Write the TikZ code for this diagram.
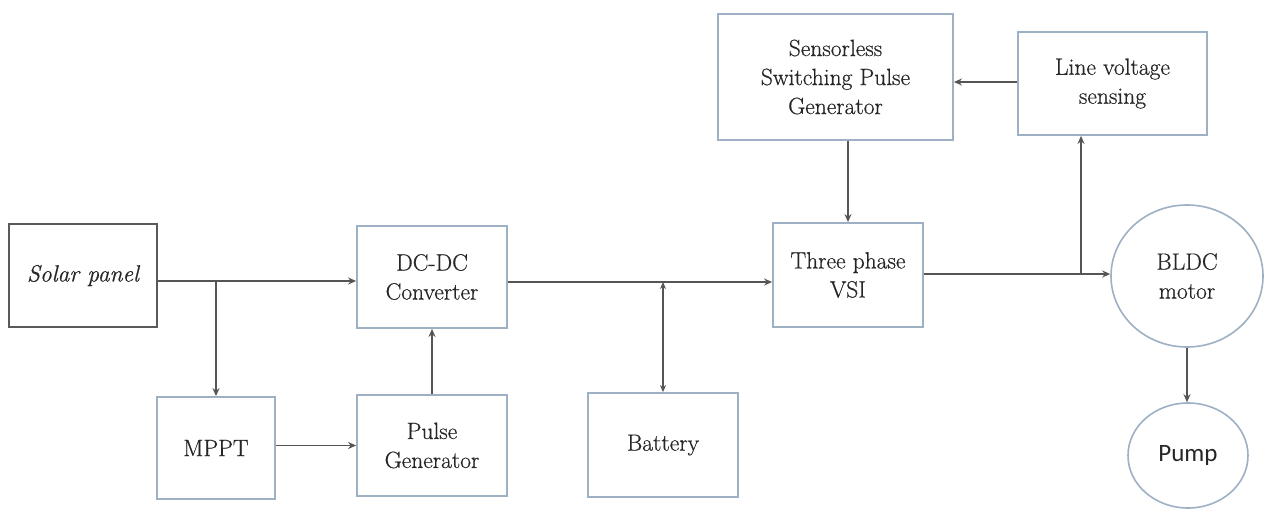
\documentclass[tikz,border=0pt]{standalone}
\usepackage{fontspec}
\setmainfont{Latin Modern Roman}[FakeBold=0.5]
\newfontfamily\pumpfont{Carlito}
\usetikzlibrary{arrows.meta,shapes.geometric}
\definecolor{boxc}{HTML}{9DB0C4}
\definecolor{darkb}{HTML}{5A5A5A}
\definecolor{linec}{HTML}{555555}
\definecolor{txt}{HTML}{262626}
\begin{document}
\begin{tikzpicture}[x=1pt,y=-1pt,
  blk/.style={draw=boxc,line width=1.8pt,rectangle,inner sep=0pt,align=center,
    text=txt,font=\fontsize{23.5}{29}\selectfont},
  circ/.style={draw=boxc,line width=1.6pt,ellipse,inner sep=0pt,align=center,
    text=txt,font=\fontsize{23.5}{29}\selectfont},
  arr/.style={draw=linec,line width=1.8pt,-{Stealth[length=8pt,width=7pt]}},
  darr/.style={draw=linec,line width=1.8pt,{Stealth[length=7pt,width=6pt]}-{Stealth[length=7pt,width=6pt]}}]
\useasboundingbox[fill=white] (0,0) rectangle (1266,511);

\node[blk,draw=darkb,line width=2.4pt,minimum width=148pt,minimum height=103pt] (solar) at (83,275.5) {\itshape Solar panel};
\node[blk,minimum width=150pt,minimum height=102pt] (dcdc) at (432,277) {DC-DC\\Converter};
\node[blk,minimum width=118pt,minimum height=102pt] (mppt) at (216,448) {MPPT};
\node[blk,minimum width=150pt,minimum height=101pt] (pulse) at (432,445.5) {Pulse\\Generator};
\node[blk,minimum width=150pt,minimum height=104pt] (battery) at (663,445) {Battery};
\node[blk,minimum width=150pt,minimum height=104pt] (vsi) at (848,275) {Three phase\\VSI};
\node[blk,minimum width=235pt,minimum height=126pt] (sspg) at (835.5,77) {Sensorless\\Switching Pulse\\Generator};
\node[blk,minimum width=189pt,minimum height=103pt] (lvs) at (1112.5,83.5) {Line voltage\\sensing};
\node[circ,minimum width=152pt,minimum height=142pt] (bldc) at (1187,276) {BLDC\\motor};
\node[circ,minimum width=120pt,minimum height=105pt,font=\pumpfont\fontsize{25}{29}\selectfont] (pump) at (1188,455.5) {Pump};

\coordinate (j1) at (216,281);
\coordinate (j2) at (663,282);
\coordinate (j3) at (1081,274);

% solar panel to DC-DC, with branch to MPPT
\draw[arr] (solar.east |- j1) -- (dcdc.west |- j1);
\draw[arr] (j1) -- (mppt.north);
\draw[arr] (mppt.east |- pulse.west) -- (pulse.west);
\draw[arr] (pulse.north) -- (dcdc.south);
% DC-DC to VSI, battery branch
\draw[arr] (dcdc.east |- j2) -- (vsi.west |- j2);
\draw[darr] (j2) -- (battery.north);
% VSI to motor, branch to line voltage sensing
\draw[arr] (vsi.east |- j3) -- (bldc.west |- j3);
\draw[arr] (j3) -- (lvs.south -| j3);
\draw[arr] (lvs.west |- 0,82) -- (sspg.east |- 0,82);
\draw[arr] (sspg.south -| vsi.north) -- (vsi.north);
\draw[arr] (bldc.south) -- (pump.north -| bldc.south);
\end{tikzpicture}
\end{document}
